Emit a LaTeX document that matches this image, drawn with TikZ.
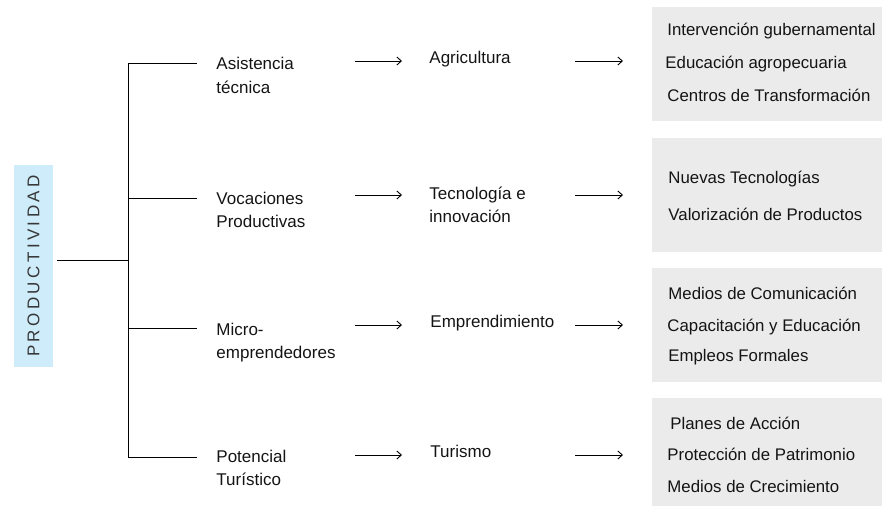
\documentclass[tikz,border=0pt]{standalone}
\usepackage{fontspec}
\setmainfont{Liberation Sans}
\newfontfamily\spacedfont[LetterSpace=20]{Liberation Sans}
\usetikzlibrary{arrows.meta}
\definecolor{prodblue}{RGB}{206,236,249}
\definecolor{boxgray}{RGB}{235,235,235}
\definecolor{txt}{RGB}{20,20,20}
\tikzset{
  lbl/.style={anchor=base west, inner sep=0pt, align=left, text=txt,
    font=\fontsize{17}{23.5}\selectfont},
  itembox/.style={fill=boxgray, minimum width=230pt, minimum height=114pt,
    anchor=north west, inner sep=0pt},
  item/.style={anchor=base west, inner sep=0pt, text=txt,
    font=\fontsize{16.8}{20}\selectfont},
  >={Straight Barb[length=4.5pt,width=8pt]}
}

\begin{document}
\begin{tikzpicture}[x=1pt, y=-1pt, line width=0.9pt]
    \useasboundingbox (0,0) rectangle (884,508);

    % root
    \node[fill=prodblue, rotate=90, minimum width=202pt, minimum height=39pt,
        inner sep=0pt, text=txt!85, font=\spacedfont\fontsize{17}{17}\selectfont]
        (prod) at (33.5,266) {PRODUCTIVIDAD};
    \coordinate (root) at (57,260);
    \coordinate (hub) at (128,260);
    \draw (root) -- (hub);

    % first column (base = last line)
    \node[lbl] (asis) at (216,93.5) {Asistencia\\técnica};
    \node[lbl] (voca) at (216,227.5) {Vocaciones\\Productivas};
    \node[lbl] (micro) at (216,358.5) {Micro-\\emprendedores};
    \node[lbl] (pot) at (216,485.5) {Potencial\\Turístico};

    % second column
    \node[lbl] (agri) at (429,64) {Agricultura};
    \node[lbl] (tecno) at (429,222.5) {Tecnología e\\innovación};
    \node[lbl] (empr) at (430,327) {Emprendimiento};
    \node[lbl] (turi) at (430,457) {Turismo};

    % boxes
    \node[itembox] (box1) at (652,7) {};
    \node[itembox] (box2) at (652,138) {};
    \node[itembox] (box3) at (652,268) {};
    \node[itembox, minimum height=108pt] (box4) at (652,398) {};

    \node[item] (gob) at (667,36) {Intervención gubernamental};
    \node[item] (edu) at (665,69) {Educación agropecuaria};
    \node[item] (ctr) at (667,102) {Centros de Transformación};
    \node[item] (nue) at (668,184) {Nuevas Tecnologías};
    \node[item] (val) at (668,220) {Valorización de Productos};
    \node[item] (med) at (668,299) {Medios de Comunicación};
    \node[item] (cap) at (667,331) {Capacitación y Educación};
    \node[item] (emp) at (668,361) {Empleos Formales};
    \node[item] (pla) at (670,429) {Planes de Acción};
    \node[item] (pro) at (667,460) {Protección de Patrimonio};
    \node[item] (cre) at (667,492) {Medios de Crecimiento};

    % tree
    \foreach \n/\y in {1/63,2/198,3/328,4/457}
        \coordinate (br\n) at (197,\y);
    \draw (hub) |- (br1);
    \draw (hub) |- (br2);
    \draw (hub) |- (br3);
    \draw (hub) |- (br4);

    % arrows
    \foreach \n/\y in {1/61,2/195,3/325,4/455} {
        \coordinate (a\n) at (355,\y);
        \coordinate (b\n) at (402,\y);
        \coordinate (c\n) at (575,\y);
        \coordinate (d\n) at (623,\y);
        \draw[->] (a\n) -- (b\n);
        \draw[->] (c\n) -- (d\n);
    }
\end{tikzpicture}
\end{document}
